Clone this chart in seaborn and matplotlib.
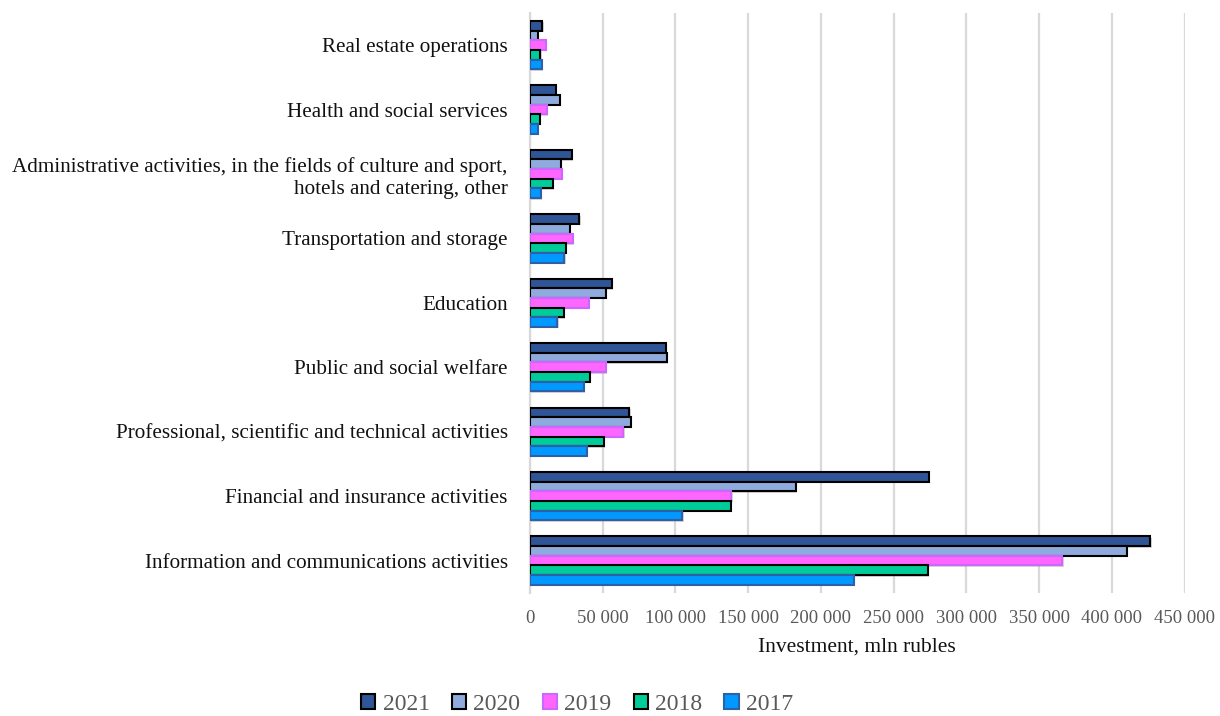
import matplotlib
matplotlib.use("Agg")
import matplotlib.pyplot as plt
import matplotlib.patheffects as pe
from matplotlib.patches import Patch
from matplotlib.ticker import FuncFormatter, MultipleLocator
import pandas as pd
import seaborn as sns

# Investment by type of activity, mln rubles
categories = [
    "Real estate operations",
    "Health and social services",
    "Administrative activities, in the fields of culture and sport,\nhotels and catering, other",
    "Transportation and storage",
    "Education",
    "Public and social welfare",
    "Professional, scientific and technical activities",
    "Financial and insurance activities",
    "Information and communications activities",
]
years = ["2021", "2020", "2019", "2018", "2017"]
v2021 = [8500, 17900, 28900, 33900, 56200, 93300, 68300, 274100, 426500]
v2020 = [5300, 20600, 21300, 27500, 52100, 94000, 69500, 182900, 410200]
v2019 = [10800, 11500, 22000, 29400, 40600, 52100, 64200, 138400, 366000]
v2018 = [7100, 6900, 15800, 24800, 23400, 41300, 50900, 138200, 273300]
v2017 = [8000, 5500, 7600, 23600, 18800, 37100, 39000, 104700, 222500]

fill_colors = {"2021": "#2F5597", "2020": "#8FAADC", "2019": "#FF66FF",
               "2018": "#00CC99", "2017": "#0099FF"}
edge_colors = {"2021": "#000000", "2020": "#000000", "2019": "#CC66FF",
               "2018": "#000000", "2017": "#2E5FA8"}

series = dict(zip(years, [v2021, v2020, v2019, v2018, v2017]))
df = pd.DataFrame(
    [(c, y, v) for y in years for c, v in zip(categories, series[y])],
    columns=["activity", "year", "value"],
)

sns.set_theme(style="white")
plt.rcParams["font.family"] = ["Liberation Serif", "DejaVu Serif"]

fig = plt.figure(figsize=(12.2, 7.16), dpi=100)
ax = fig.add_axes([0.4344, 0.172, 0.5366, 0.810])

sns.barplot(
    data=df, y="activity", x="value", hue="year",
    order=categories, hue_order=years, palette=fill_colors, saturation=1,
    orient="h", width=0.75, gap=0, legend=False, ax=ax, zorder=3,
)

shadow = [pe.SimplePatchShadow(offset=(1, -1), shadow_rgbFace="#888888", alpha=0.35),
          pe.Normal()]
for cont, yr in zip(ax.containers, years):
    for bar in cont:
        bar.set_edgecolor(edge_colors[yr])
        bar.set_linewidth(1.5)
        bar.set_path_effects(shadow)

ax.set_xlim(0, 450000)
ax.set_ylim(len(categories) - 0.5, -0.5)
ax.xaxis.set_major_locator(MultipleLocator(50000))
ax.xaxis.set_major_formatter(FuncFormatter(lambda v, p: f"{int(v):,}".replace(",", " ")))
ax.grid(axis="x", color="#D9D9D9", linewidth=1.6, zorder=0)
ax.grid(axis="y", visible=False)
for s in ["top", "right", "bottom"]:
    ax.spines[s].set_visible(False)
ax.spines["left"].set_color("#D9D9D9")
ax.spines["left"].set_linewidth(1.6)

ax.tick_params(axis="x", length=0, pad=12, labelsize=13.5, labelcolor="#595959")
ax.tick_params(axis="y", length=0, pad=16, labelsize=15.2, labelcolor="#111111")
ax.set_ylabel("")
ax.set_xlabel("Investment, mln rubles", fontsize=15.5, color="#111111", labelpad=8)

handles = [Patch(facecolor=fill_colors[y], edgecolor=edge_colors[y], linewidth=1.5)
           for y in years]
fig.legend(handles, years, loc="center", bbox_to_anchor=(0.473, 0.016), ncol=5,
           frameon=False, fontsize=17, labelcolor="#595959",
           handlelength=0.6, handleheight=0.6, handletextpad=0.3,
           columnspacing=0.95)

fig.savefig("out.png", dpi=100)
